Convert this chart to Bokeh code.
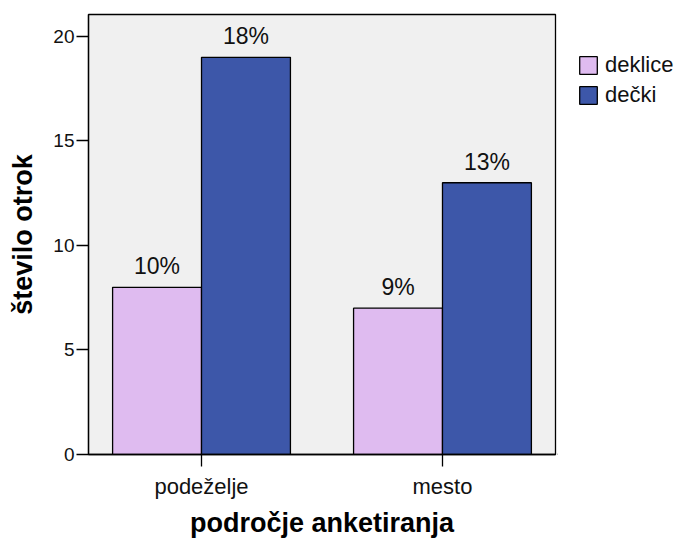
from bokeh.plotting import figure
from bokeh.models import ColumnDataSource, FixedTicker, Legend, LegendItem, Range1d
from bokeh.layouts import row
from bokeh.core.properties import value
from bokeh.embed import file_html
from bokeh.resources import INLINE

categories = ["podeželje", "mesto"]
series_names = ["deklice", "dečki"]
deklice = [8, 7]
decki = [19, 13]
deklice_pct = ["10%", "9%"]
decki_pct = ["18%", "13%"]
y_ticks = [0, 5, 10, 15, 20]

FONT = "Liberation Sans"
C_GIRLS = "#dfbbf0"
C_BOYS = "#3d57a9"

pos = [i + 1 for i in range(len(categories))]
bw = 0.369

p = figure(width=557, height=540, output_backend="svg", toolbar_location=None,
           x_range=Range1d(0.531, 2.469), y_range=Range1d(0, 21.05),
           min_border_left=88, min_border_right=2, min_border_top=14, min_border_bottom=85)
p.background_fill_color = "#f0f0f0"
p.border_fill_color = "white"
p.outline_line_color = "black"
p.outline_line_width = 1.3
p.xgrid.visible = False
p.ygrid.visible = False

src_g = ColumnDataSource(dict(x=[v - bw / 2 for v in pos], top=deklice, lab=deklice_pct))
src_b = ColumnDataSource(dict(x=[v + bw / 2 for v in pos], top=decki, lab=decki_pct))

p.vbar(x="x", top="top", bottom=0, width=bw, source=src_g, fill_color=C_GIRLS,
       line_color="black", line_width=1.3)
p.vbar(x="x", top="top", bottom=0, width=bw, source=src_b, fill_color=C_BOYS,
       line_color="black", line_width=1.3)

for src in (src_g, src_b):
    p.text(x="x", y="top", text="lab", source=src, text_align="center",
           text_baseline="middle", y_offset=-21, text_font=value(FONT),
           text_font_size="23px", text_color="#111111")

# axes
p.xaxis.ticker = FixedTicker(ticks=pos)
p.xaxis.major_label_overrides = {v: c for v, c in zip(pos, categories)}
p.yaxis.ticker = FixedTicker(ticks=y_ticks)
for ax in (p.xaxis[0], p.yaxis[0]):
    ax.axis_line_color = "black"
    ax.axis_line_width = 1.3
    ax.major_tick_line_color = "black"
    ax.major_tick_line_width = 1.3
    ax.major_tick_in = 0
    ax.major_tick_out = 12
    ax.minor_tick_line_color = None
    ax.major_label_text_font = FONT
    ax.major_label_text_color = "#111111"
    ax.axis_label_text_font = FONT
    ax.axis_label_text_font_style = "bold"
    ax.axis_label_text_font_size = "27px"
    ax.axis_label_text_color = "black"

p.xaxis.major_label_text_font_size = "22px"
p.xaxis.major_label_standoff = 7
p.xaxis.axis_label = "področje anketiranja"
p.xaxis.axis_label_standoff = 6
p.yaxis.major_label_text_font_size = "19px"
p.yaxis.major_label_standoff = 2
p.yaxis.axis_label = "število otrok"
p.yaxis.axis_label_standoff = 12

# legend panel (separate figure to the right of the plot; frames are aligned by the row)
lf = figure(width=124, height=540, output_backend="svg", toolbar_location=None,
            x_range=Range1d(0, 1), y_range=Range1d(0, 1),
            min_border_left=0, min_border_right=0, min_border_top=14, min_border_bottom=85)
lf.axis.visible = False
lf.grid.visible = False
lf.outline_line_color = None
lf.background_fill_color = "white"
lf.border_fill_color = "white"
lg = lf.vbar(x="x", top="top", bottom=0, width=0.1,
             source=ColumnDataSource(dict(x=[-10], top=[0])),
             fill_color=C_GIRLS, line_color="black", line_width=1.3)
lb = lf.vbar(x="x", top="top", bottom=0, width=0.1,
             source=ColumnDataSource(dict(x=[-10], top=[0])),
             fill_color=C_BOYS, line_color="black", line_width=1.3)

legend = Legend(items=[LegendItem(label=series_names[0], renderers=[lg]),
                       LegendItem(label=series_names[1], renderers=[lb])],
                location=(20, 346), orientation="vertical")
legend.padding = 0
legend.margin = 0
legend.spacing = 4
legend.glyph_width = 22
legend.glyph_height = 22
legend.label_height = 22
legend.label_standoff = 6
legend.label_text_font = FONT
legend.label_text_font_size = "22px"
legend.label_text_color = "#111111"
legend.border_line_alpha = 0
legend.background_fill_alpha = 0
lf.add_layout(legend, "center")

layout = row(p, lf, spacing=0)
open("out.html", "w").write(file_html(layout, INLINE))
